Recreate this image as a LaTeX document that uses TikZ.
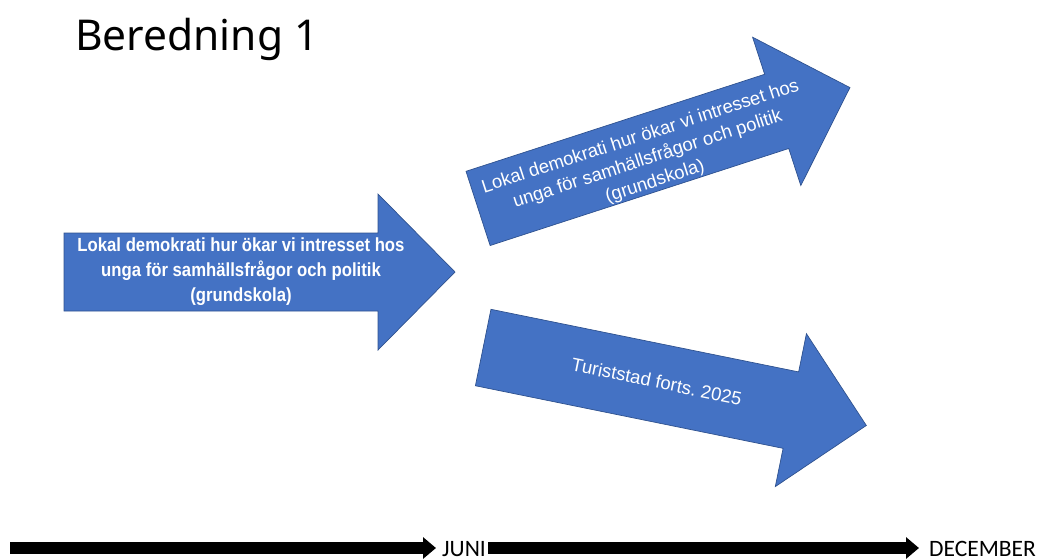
\documentclass[tikz,border=0pt]{standalone}
\usepackage{fontspec}
\usetikzlibrary{arrows.meta}
\newfontfamily\titlefont{Noto Sans}
\newfontfamily\boxfont{Liberation Sans}
\newfontfamily\narrowfont[FakeStretch=0.88]{Liberation Sans}
\newfontfamily\timefont{Carlito}
\definecolor{arrowblue}{HTML}{4472C4}
\definecolor{arrowedge}{HTML}{2F528F}
\tikzset{
  bigarrow/.style={fill=arrowblue, draw=arrowedge, line width=0.7pt, line join=miter},
  boldlabel/.style={text=white, align=center, inner sep=0pt, font=\narrowfont\bfseries\fontsize{19}{25}\selectfont},
  plainlabel/.style={text=white, align=center, inner sep=0pt, font=\boxfont\fontsize{18.5}{23.5}\selectfont},
  timetext/.style={inner sep=0pt, font=\timefont\fontsize{23.5}{23.5}\selectfont},
  timeline/.style={line width=12pt, line cap=butt, -{Triangle[length=13pt,width=21pt]}}
}
\newcommand{\arrowshape}{(-195.5,-39) -- (118.5,-39) -- (118.5,-78) -- (195.5,0) -- (118.5,78) -- (118.5,39) -- (-195.5,39) -- cycle}
\frenchspacing
\begin{document}
\begin{tikzpicture}[x=1pt,y=-1pt]
\useasboundingbox (0,0) rectangle (1039,558);
% title
\node[anchor=base west, inner sep=0pt, font=\titlefont\fontsize{42.5}{42.5}\selectfont] (title) at (75,50) {Beredning 1};
% left arrow
\begin{scope}[shift={(259.5,272)}]
  \path[bigarrow] \arrowshape;
  \node[boldlabel] (a1) at (-18.5,0) {Lokal demokrati hur ökar vi intresset hos\\unga för samhällsfrågor och politik\\(grundskola)};
\end{scope}
% upper right arrow
\begin{scope}[shift={(664,148)}, rotate=18]
  \path[bigarrow] \arrowshape;
  \node[plainlabel, transform shape] (a2) at (-19,6) {Lokal demokrati hur ökar vi intresset hos\\unga för samhällsfrågor och politik\\(grundskola)};
\end{scope}
% lower right arrow
\begin{scope}[shift={(674.75,386.5)}, rotate=-11.5]
  \path[bigarrow] \arrowshape;
  \node[plainlabel, transform shape] (a3) at (-18.6,-1.3) {Turiststad forts. 2025};
\end{scope}
% timeline
\coordinate (s1) at (10,548);
\node[timetext, anchor=base west] (juni) at (442,556) {JUNI};
\node[timetext, anchor=base west] (dec) at (929,556) {DECEMBER};
\coordinate (s2) at ([xshift=2pt]juni.east |- s1);
\draw[timeline, shorten >=6pt] (s1) -- (s1 -| juni.west);
\draw[timeline, shorten >=10pt] (s2) -- (s2 -| dec.west);
\end{tikzpicture}
\end{document}
